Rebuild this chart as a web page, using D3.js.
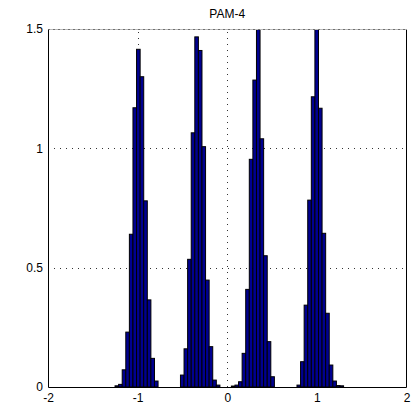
<!DOCTYPE html>
<html>
<head>
<meta charset="utf-8">
<script src="https://cdn.jsdelivr.net/npm/d3@7"></script>
<style>
  body { margin: 0; background: #fff; }
  text { font-family: "Liberation Sans", Arial, sans-serif; }
</style>
</head>
<body>
<script>
// histogram bins (centres) and normalised counts
let binCenters = [
  -1.232, -1.192, -1.152, -1.112, -1.072, -1.032, -0.992, -0.952, -0.912, -0.872, -0.832, -0.792,
  -0.502, -0.462, -0.422, -0.382, -0.342, -0.302, -0.262, -0.222, -0.182, -0.142, -0.102,
  0.066, 0.106, 0.146, 0.186, 0.226, 0.266, 0.306, 0.346, 0.386, 0.426, 0.466, 0.506,
  0.798, 0.838, 0.878, 0.918, 0.958, 0.998, 1.038, 1.078, 1.118, 1.158, 1.198, 1.238, 1.278
]
let density = [
  0.005, 0.011, 0.072, 0.23, 0.64, 1.17, 1.415, 1.30, 0.78, 0.365, 0.12, 0.025,
  0.05, 0.16, 0.535, 1.065, 1.467, 1.41, 1.007, 0.448, 0.169, 0.029, 0.008,
  0.004, 0.008, 0.022, 0.141, 0.409, 0.954, 1.286, 1.56, 1.04, 0.55, 0.19, 0.043,
  0.008, 0.106, 0.343, 0.783, 1.216, 1.6, 1.168, 0.644, 0.309, 0.092, 0.025, 0.006, 0.005
]
let binWidth = 0.04
let xTicks = [-2, -1, 0, 1, 2]
let yTicks = [0, 0.5, 1, 1.5]
let title = "PAM-4"

let width = 412
let height = 406
let margin = { top: 29, right: 5.5, bottom: 19, left: 48 }

let svg = d3.select("body").append("svg")
    .attr("width", width)
    .attr("height", height)

let x = d3.scaleLinear().domain([-2, 2]).range([margin.left, width - margin.right])
let y = d3.scaleLinear().domain([0, 1.5]).range([height - margin.bottom, margin.top])

svg.append("clipPath").attr("id", "plot")
    .append("rect")
    .attr("x", x(-2)).attr("y", y(1.5))
    .attr("width", x(2) - x(-2)).attr("height", y(0) - y(1.5))

// dotted grid, behind the bars
let grid = svg.append("g")
    .attr("stroke", "#333")
    .attr("stroke-width", 1)
    .attr("stroke-dasharray", "1,5")
grid.selectAll(".gx").data([-1, 0, 1]).enter().append("line")
    .attr("class", "gx")
    .attr("x1", d => Math.round(x(d)) + 0.5).attr("x2", d => Math.round(x(d)) + 0.5)
    .attr("y1", y(0)).attr("y2", y(1.5))
grid.selectAll(".gy").data([0.5, 1]).enter().append("line")
    .attr("class", "gy")
    .attr("y1", d => Math.round(y(d)) + 0.5).attr("y2", d => Math.round(y(d)) + 0.5)
    .attr("x1", x(-2)).attr("x2", x(2))

let bins = binCenters.map((c, i) => ({ c: c, v: density[i] }))

svg.append("g")
    .attr("clip-path", "url(#plot)")
    .selectAll(".bar").data(bins).enter().append("rect")
    .attr("class", "bar")
    .attr("x", d => x(d.c - binWidth / 2))
    .attr("width", d => x(d.c + binWidth / 2) - x(d.c - binWidth / 2))
    .attr("y", d => y(d.v))
    .attr("height", d => y(0) - y(d.v))
    .attr("fill", "#000090")
    .attr("stroke", "#000")
    .attr("stroke-width", 1)

// box: left, bottom, right solid; top border looks dotted
let x0 = Math.round(x(-2)) + 0.5, x1 = Math.round(x(2)) - 0.5
let y0 = Math.round(y(0)) + 0.5, y1 = Math.round(y(1.5)) + 0.5
svg.append("path")
    .attr("d", `M${x0},${y1}V${y0}H${x1}V${y1}`)
    .attr("fill", "none").attr("stroke", "#000")
svg.append("line")
    .attr("x1", x0).attr("x2", x1).attr("y1", y1).attr("y2", y1)
    .attr("stroke", "#bbb")
svg.append("line")
    .attr("x1", x0).attr("x2", x1).attr("y1", y1).attr("y2", y1)
    .attr("stroke", "#222").attr("stroke-dasharray", "1,4")

let xAxis = svg.append("g")
    .attr("transform", `translate(0,${y(0)})`)
    .call(d3.axisBottom(x).tickValues(xTicks).tickSize(0).tickPadding(6).tickFormat(d => String(d)))
xAxis.select(".domain").remove()
xAxis.selectAll("text").attr("font-size", 12).attr("fill", "#000")
    .attr("font-family", "Liberation Sans, Arial, sans-serif")

let yAxis = svg.append("g")
    .attr("transform", `translate(${x(-2)},0)`)
    .call(d3.axisLeft(y).tickValues(yTicks).tickSize(0).tickPadding(5).tickFormat(d => String(d)))
yAxis.select(".domain").remove()
yAxis.selectAll("text").attr("font-size", 12).attr("fill", "#000")
    .attr("font-family", "Liberation Sans, Arial, sans-serif")

svg.append("text")
    .attr("x", (x(-2) + x(2)) / 2)
    .attr("y", 18)
    .attr("text-anchor", "middle")
    .attr("font-size", 12)
    .text(title)
</script>
</body>
</html>
